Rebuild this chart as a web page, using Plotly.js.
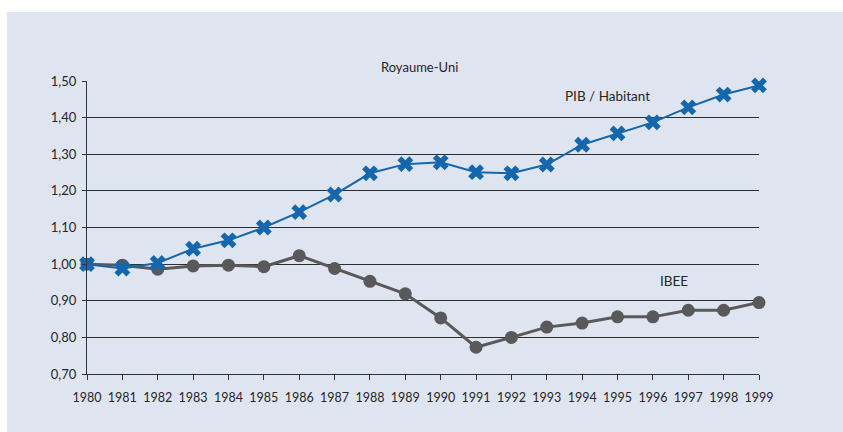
<!DOCTYPE html>
<html>
<head>
<meta charset="utf-8">
<script src="https://cdn.plot.ly/plotly-3.0.1.min.js"></script>
<style>
  html, body { margin: 0; padding: 0; background: #ffffff; width: 843px; height: 432px; overflow: hidden; }
  #chart { position: absolute; left: 7px; top: 12px; width: 836px; height: 420px; }
</style>
</head>
<body>
<div id="chart"></div>
<script>
const years = [1980, 1981, 1982, 1983, 1984, 1985, 1986, 1987, 1988, 1989,
               1990, 1991, 1992, 1993, 1994, 1995, 1996, 1997, 1998, 1999];
const pibHabitant = [1.000, 0.988, 1.003, 1.042, 1.065, 1.100, 1.142, 1.190, 1.248, 1.273,
                     1.278, 1.251, 1.248, 1.272, 1.326, 1.357, 1.387, 1.428, 1.463, 1.488];
const ibee = [1.000, 0.997, 0.986, 0.995, 0.997, 0.993, 1.023, 0.988, 0.953, 0.919,
              0.853, 0.773, 0.800, 0.828, 0.839, 0.856, 0.856, 0.874, 0.874, 0.895];
const yTicks = [0.70, 0.80, 0.90, 1.00, 1.10, 1.20, 1.30, 1.40, 1.50];
const chartTitle = 'Royaume-Uni';
const seriesNames = ['PIB / Habitant', 'IBEE'];

const FONT = 'Lato, "Open Sans", sans-serif';
const TXT = '#262626';

const traces = [
  {
    x: years, y: ibee, name: seriesNames[1], type: 'scatter', mode: 'lines+markers',
    line: { color: '#595959', width: 3 },
    marker: { symbol: 'circle', size: 13, color: '#595959' },
    cliponaxis: false
  },
  {
    x: years, y: pibHabitant, name: seriesNames[0], type: 'scatter', mode: 'lines+markers',
    line: { color: '#1467ad', width: 2 },
    marker: { symbol: 'x', size: 14, color: '#1467ad', line: { width: 0 } },
    cliponaxis: false
  }
];

const layout = {
  width: 836, height: 420,
  paper_bgcolor: '#dfe4f1', plot_bgcolor: 'rgba(0,0,0,0)',
  margin: { l: 80, r: 84, t: 69, b: 58 },
  showlegend: false,
  separators: ',.',
  font: { family: FONT, size: 13, color: TXT },
  title: {
    text: chartTitle, font: { family: FONT, size: 13, color: TXT },
    xref: 'paper', x: 0.495, xanchor: 'center',
    yref: 'container', y: 1 - 55 / 420, yanchor: 'middle'
  },
  xaxis: {
    range: [1980, 1999], tickvals: years, ticktext: years.map(String),
    showgrid: false, zeroline: false,
    showline: true, linecolor: '#333333', linewidth: 1,
    ticks: 'outside', ticklen: 5, tickcolor: '#333333', tickwidth: 1,
    ticklabelstandoff: 7,
    tickfont: { family: FONT, size: 12.5, color: TXT }
  },
  yaxis: {
    range: [0.70, 1.50], tickvals: yTicks, tickformat: '.2f',
    showgrid: true, gridcolor: '#2e2e2e', gridwidth: 1,
    zeroline: false,
    showline: true, linecolor: '#333333', linewidth: 1,
    ticks: 'outside', ticklen: 4, tickcolor: '#333333', tickwidth: 1,
    ticklabelstandoff: 3,
    tickfont: { family: FONT, size: 13, color: TXT }
  },
  annotations: [
    { x: 1994.73, y: 1.458, xref: 'x', yref: 'y', text: seriesNames[0], showarrow: false,
      font: { family: FONT, size: 13.5, color: TXT }, xanchor: 'center', yanchor: 'middle' },
    { x: 1996.6, y: 0.955, xref: 'x', yref: 'y', text: seriesNames[1], showarrow: false,
      font: { family: FONT, size: 13.5, color: TXT }, xanchor: 'center', yanchor: 'middle' }
  ]
};

Plotly.newPlot('chart', traces, layout, { staticPlot: true, displayModeBar: false });
</script>
</body>
</html>
